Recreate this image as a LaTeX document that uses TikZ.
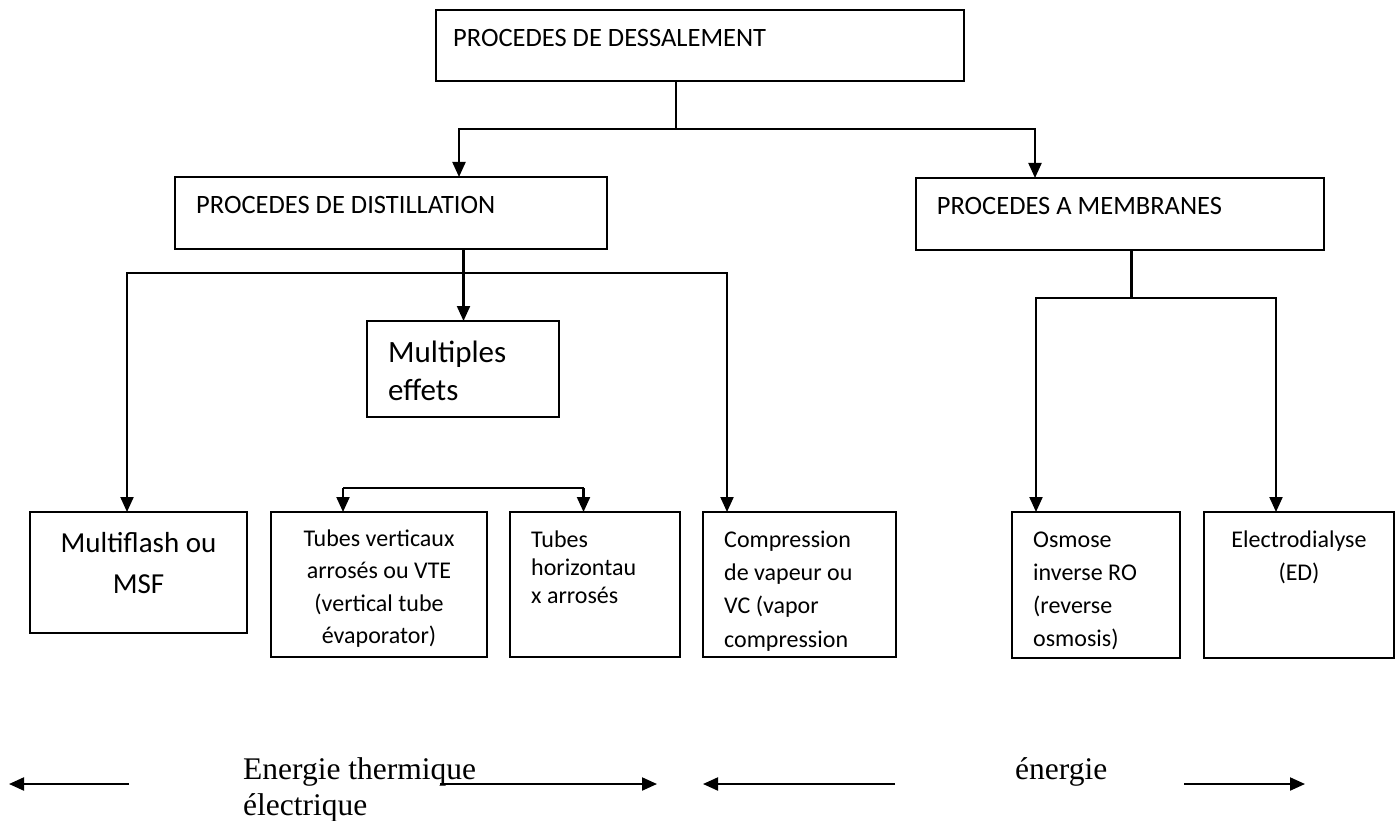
\documentclass[tikz,border=0pt]{standalone}
\usepackage{fontspec}
\setmainfont{Carlito}
\newfontfamily\timesf{Liberation Serif}
\usetikzlibrary{arrows.meta}
\begin{document}
\begin{tikzpicture}[x=1pt,y=-1pt,
  box/.style={draw, line width=2.1pt, inner sep=0pt, outer sep=0pt},
  con/.style={line width=2.1pt},
  arr/.style={line width=2.1pt, -{Triangle[width=13pt,length=15pt]}},
  big/.style={inner sep=0pt, font=\fontsize{26.5}{32}\selectfont},
  huge/.style={inner sep=0pt, font=\fontsize{31}{38}\selectfont},
  mid/.style={inner sep=0pt, font=\fontsize{29}{36}\selectfont},
  small/.style={inner sep=0pt, font=\fontsize{24}{29}\selectfont},
  serif/.style={inner sep=0pt, font=\timesf\fontsize{31.5}{36}\selectfont}]
\useasboundingbox (0,0) rectangle (1396,821);
% boxes
\node[box, minimum width=528pt, minimum height=71pt] (top) at (700,45.5) {};
\node[box, minimum width=432pt, minimum height=72pt] (dist) at (391,213) {};
\node[box, minimum width=408pt, minimum height=72pt] (memb) at (1120,214) {};
\node[box, minimum width=192pt, minimum height=96pt] (mult) at (463,369) {};
\node[box, minimum width=217pt, minimum height=121pt] (msf) at (138.5,572.5) {};
\node[box, minimum width=216pt, minimum height=145pt] (vte) at (379,584.5) {};
\node[box, minimum width=170pt, minimum height=145pt] (hor) at (595,584.5) {};
\node[box, minimum width=193pt, minimum height=145pt] (comp) at (799.5,584.5) {};
\node[box, minimum width=168pt, minimum height=146pt] (osm) at (1096,585) {};
\node[box, minimum width=190pt, minimum height=146pt] (ed) at (1299,585) {};
% texts
\node[big, anchor=base west] (ttop) at (453,46.7) {PROCEDES DE DESSALEMENT};
\node[big, anchor=base west] (tdist) at (196,213) {PROCEDES DE DISTILLATION};
\node[big, anchor=base west] (tmemb) at (936.6,214) {PROCEDES A MEMBRANES};
\node[huge, anchor=base west] (tmult1) at (388,362) {Multiples};
\node[huge, anchor=base west] (tmult2) at (388,400) {effets};
\node[mid, anchor=base] (tmsf1) at (138.5,552) {Multiflash ou};
\node[mid, anchor=base] (tmsf2) at (138.5,593) {MSF};
\node[small, anchor=base] (tvte1) at (379,546) {Tubes verticaux};
\node[small, anchor=base] (tvte2) at (379,578) {arrosés ou VTE};
\node[small, anchor=base] (tvte3) at (379,611) {(vertical tube};
\node[small, anchor=base] (tvte4) at (379,643) {évaporator)};
\node[small, anchor=base west] (thor1) at (531,547) {Tubes};
\node[small, anchor=base west] (thor2) at (531,575) {horizontau};
\node[small, anchor=base west] (thor3) at (531,603) {x arrosés};
\node[small, anchor=base west] (tcomp1) at (724,547) {Compression};
\node[small, anchor=base west] (tcomp2) at (724,580) {de vapeur ou};
\node[small, anchor=base west] (tcomp3) at (724,613) {VC (vapor};
\node[small, anchor=base west] (tcomp4) at (724,647) {compression};
\node[small, anchor=base west] (tosm1) at (1033,547) {Osmose};
\node[small, anchor=base west] (tosm2) at (1033,580) {inverse RO};
\node[small, anchor=base west] (tosm3) at (1033,613) {(reverse};
\node[small, anchor=base west] (tosm4) at (1033,646) {osmosis)};
\node[small, anchor=base] (ted1) at (1299,547) {Electrodialyse};
\node[small, anchor=base] (ted2) at (1299,580) {(ED)};
\node[serif, anchor=base west] (ten1) at (243,779) {Energie thermique};
\node[serif, anchor=base west] (ten2) at (243,815) {électrique};
\node[serif, anchor=base west] (ten3) at (1015,779) {énergie};
% junction coordinates
\coordinate (j0) at (676,129);
\coordinate (jd) at (459,129);
\coordinate (jm) at (1035,129);
\coordinate (d0) at (463.5,273);
\coordinate (dl) at (127,273);
\coordinate (dr) at (727,273);
\coordinate (m0) at (1131.5,298);
\coordinate (ml) at (1036,298);
\coordinate (mr) at (1276,298);
\coordinate (vl) at (343,488);
\coordinate (vr) at (583.5,488);
% connectors
\draw[con] (top.south -| j0) -- (j0);
\draw[arr] (j0) -| (dist.north -| jd);
\draw[arr] (j0) -| (memb.north -| jm);
\draw[arr] (dist.south -| d0) -- (mult.north -| d0);
\draw[arr] (d0) -| (msf.north -| dl);
\draw[arr] (d0) -| (comp.north -| dr);
\draw[con] (memb.south -| m0) -- (m0);
\draw[arr] (m0) -| (osm.north -| ml);
\draw[arr] (m0) -| (ed.north -| mr);
\draw[arr] (vl) -- (vte.north -| vl);
\draw[arr] (vr) -- (hor.north -| vr);
\draw[con] (vl) -- (vr);
% bottom energy arrows
\coordinate (a1s) at (129,784);
\coordinate (a1e) at (9,784);
\coordinate (a2s) at (440,784);
\coordinate (a2e) at (657,784);
\coordinate (a3s) at (895,784);
\coordinate (a3e) at (703,784);
\coordinate (a4s) at (1184,784);
\coordinate (a4e) at (1305,784);
\draw[arr] (a1s) -- (a1e);
\draw[arr] (a2s) -- (a2e);
\draw[arr] (a3s) -- (a3e);
\draw[arr] (a4s) -- (a4e);
\end{tikzpicture}
\end{document}
